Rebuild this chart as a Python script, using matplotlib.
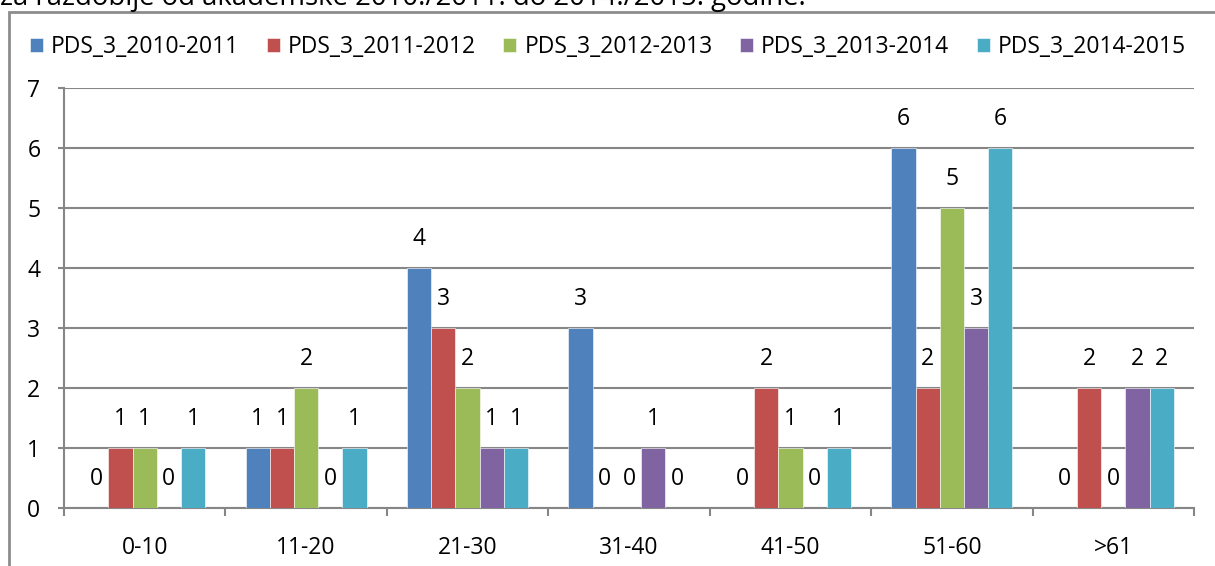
import matplotlib.pyplot as plt
import numpy as np
from matplotlib.patches import Rectangle

plt.rcParams['font.family'] = ['Open Sans', 'DejaVu Sans']

categories = ['0-10', '11-20', '21-30', '31-40', '41-50', '51-60', '>61']
series = ['PDS_3_2010-2011', 'PDS_3_2011-2012', 'PDS_3_2012-2013',
          'PDS_3_2013-2014', 'PDS_3_2014-2015']
v2010 = [0, 1, 4, 3, 0, 6, 0]
v2011 = [1, 1, 3, 0, 2, 2, 2]
v2012 = [1, 2, 2, 0, 1, 5, 0]
v2013 = [0, 0, 1, 1, 0, 3, 2]
v2014 = [1, 1, 1, 0, 1, 6, 2]
colors = ['#4F81BD', '#C0504D', '#9BBB59', '#8064A2', '#4BACC6']
title_cut = 'za razdoblje od akademske 2010./2011. do 2014./2015. godine.'

values = [v2010, v2011, v2012, v2013, v2014]
fs = 16.5
grey = '#868686'

fig = plt.figure(figsize=(12.15, 5.66), dpi=100)
ax = fig.add_axes([64 / 1215, 1 - 508 / 566, 1130 / 1215, 420 / 566])

# frame around the chart (cut at right/bottom like the screenshot)
fig.patches.append(Rectangle((9 / 1215, -0.1), 1.2, 1 - 12 / 566 + 0.1,
                             transform=fig.transFigure, fill=False,
                             edgecolor='#8c8c8c', linewidth=2))
# text line above the chart, cut off by the screenshot
fig.text(0.0, 1 - 5 / 566, title_cut, fontsize=19.8, va='baseline', ha='left')

x = np.arange(len(categories)) + 0.5
w = 0.15
for j, (vals, col, name) in enumerate(zip(values, colors, series)):
    pos = x + (j - 2) * w
    ax.bar(pos, vals, width=w, color=col, label=name, zorder=3,
           edgecolor='white', linewidth=0.4)
    for px, v in zip(pos, vals):
        ax.annotate(str(v), (px, v), xytext=(0, 21), textcoords='offset points',
                    ha='center', va='center', fontsize=fs)

ax.set_xlim(0, len(categories))
ax.set_ylim(0, 7)
ax.set_yticks(range(8))
ax.yaxis.grid(True, color=grey, linewidth=1.5, zorder=0)
ax.set_xticks(range(len(categories) + 1))
ax.set_xticklabels([])
ax.set_xticks(x, minor=True)
ax.set_xticklabels(categories, minor=True, fontsize=fs)
ax.tick_params(axis='x', which='major', length=6, width=1.5, color=grey, direction='out')
ax.tick_params(axis='x', which='minor', length=0, pad=20)
ax.tick_params(axis='y', length=4, width=1.5, color=grey, pad=13, labelsize=fs)
for s in ['top', 'right']:
    ax.spines[s].set_visible(False)
for s in ['left', 'bottom']:
    ax.spines[s].set_color(grey)
    ax.spines[s].set_linewidth(1.5)

fig.legend(loc='center', bbox_to_anchor=(0.5004, 1 - 47 / 566), ncol=5, frameon=False,
           fontsize=fs, handlelength=0.57, handleheight=0.57, handletextpad=0.35,
           columnspacing=1.2, borderaxespad=0)

fig.savefig('out.png', dpi=100)
